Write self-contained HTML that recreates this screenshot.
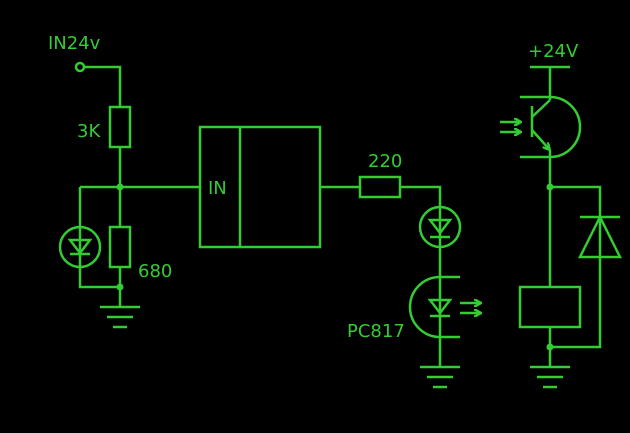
<!DOCTYPE html>
<html><head><style>
html,body{margin:0;padding:0;background:#000;}
svg{display:block;}
text{font-family:"DejaVu Sans","Liberation Sans",sans-serif;fill:#33cc33;font-size:18px;}
</style></head><body>
<svg width="630" height="433" viewBox="0 0 630 433" xmlns="http://www.w3.org/2000/svg">
<defs>
<marker id="ah" markerWidth="8" markerHeight="8" refX="6" refY="4" orient="auto" markerUnits="userSpaceOnUse">
<path d="M0,0 L7,4 L0,8" fill="none" stroke="#33cc33" stroke-width="2.5"/>
</marker>
</defs>
<g stroke="#33cc33" stroke-width="2.5" fill="none">
<circle cx="80" cy="67" r="4"/>
<path d="M84,67 H120 V107"/>
<rect x="110" y="107" width="20" height="40"/>
<path d="M120,147 V227"/>
<path d="M80,187 H200"/>
<rect x="110" y="227" width="20" height="40"/>
<path d="M120,267 V307"/>
<path d="M80,187 V287 H120"/>
<circle cx="80" cy="247" r="20" fill="#000"/>
<path d="M70,240 H90 L80,253 Z"/>
<path d="M70,254 H90"/>
<path d="M80,227 V267"/>
<path d="M100,307 H140 M107,317 H133 M113,327 H127"/>
<rect x="200" y="127" width="120" height="120"/>
<path d="M240,127 V247"/>
<path d="M320,187 H360"/>
<rect x="360" y="177" width="40" height="20"/>
<path d="M400,187 H440 V367"/>
<circle cx="440" cy="227" r="20" fill="#000"/>
<path d="M440,207 V247"/>
<path d="M430,220 H450 L440,233 Z"/>
<path d="M430,237 H450"/>
<path d="M460,277 H440 A30,30 0 0 0 440,337 H460"/>
<path d="M430,300 H450 L440,313 Z"/>
<path d="M430,316 H450"/>
<path d="M460,303 H480" marker-end="url(#ah)"/>
<path d="M460,313 H480" marker-end="url(#ah)"/>
<path d="M420,367 H460 M427,377 H453 M433,387 H447"/>
<path d="M530,67 H570"/>
<path d="M550,67 V100"/>
<path d="M520,97 H550 A30,30 0 0 1 550,157 H520"/>
<path d="M532,106 V137"/>
<path d="M532,117 L550,100"/>
<path d="M532,130 L549,149" marker-end="url(#ah)"/>
<path d="M550,150 V287"/>
<path d="M500,122 H520" marker-end="url(#ah)"/>
<path d="M500,132 H520" marker-end="url(#ah)"/>
<path d="M550,187 H600 V347 H550"/>
<path d="M580,217 H620"/>
<path d="M600,217 L580,257 H620 Z"/>
<rect x="520" y="287" width="60" height="40"/>
<path d="M550,327 V367"/>
<path d="M530,367 H570 M537,377 H563 M543,387 H557"/>
</g>
<g fill="#33cc33">
<circle cx="120" cy="187" r="3.5"/>
<circle cx="120" cy="287" r="3.5"/>
<circle cx="550" cy="187" r="3.5"/>
<circle cx="550" cy="347" r="3.5"/>
</g>
<text x="48" y="49">IN24v</text>
<text x="77" y="137">3K</text>
<text x="138" y="277">680</text>
<text x="208" y="194">IN</text>
<text x="368" y="167">220</text>
<text x="347" y="337">PC817</text>
<text x="528" y="57">+24V</text>
</svg>
</body></html>
